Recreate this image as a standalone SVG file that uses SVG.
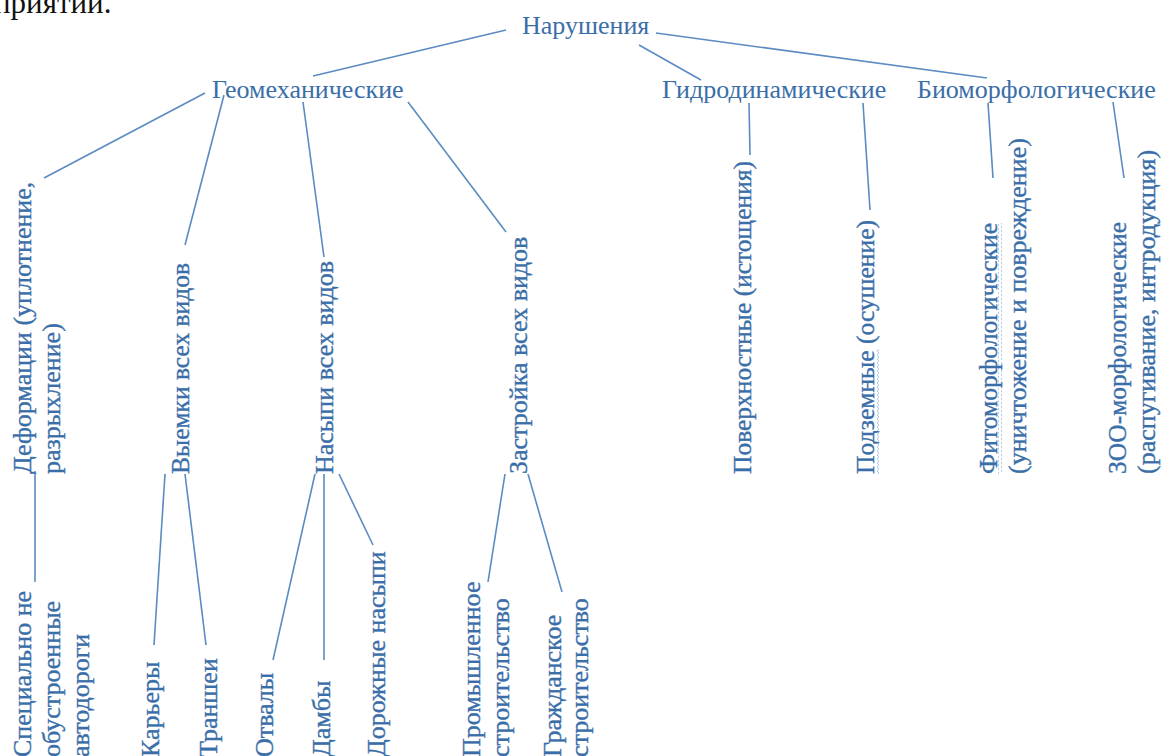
<svg xmlns="http://www.w3.org/2000/svg" width="1168" height="756" viewBox="0 0 1168 756">
<style>
text{font-family:"Liberation Serif","Times New Roman",serif;fill:#3a6ea8}
.h{font-size:26px}
.v{font-size:26px;stroke:#3a6ea8;stroke-width:0.35}
.body{fill:#111;font-size:31px}
#connectors line{stroke:#5b8bc2;stroke-width:1.6;fill:none}
.wave{fill:url(#wv)}
</style>
<defs>
<pattern id="wv" width="4" height="4" patternUnits="userSpaceOnUse">
<path d="M2 0 Q3.6 1 2 2 Q0.4 3 2 4" fill="none" stroke="#9dbbe0" stroke-width="0.8"/>
</pattern>
</defs>
<rect width="1168" height="756" fill="#fff"/>
<text class="body" x="-6" y="13">приятий.</text>

<g id="connectors">
<line x1="506" y1="30" x2="313" y2="76"/>
<line x1="639" y1="45" x2="701" y2="80"/>
<line x1="656" y1="33" x2="987" y2="78"/>
<line x1="205" y1="93" x2="44" y2="178"/>
<line x1="224" y1="95" x2="185" y2="245"/>
<line x1="303" y1="102" x2="324" y2="257"/>
<line x1="408" y1="102" x2="506" y2="232"/>
<line x1="749" y1="103" x2="750" y2="155"/>
<line x1="863" y1="103" x2="870" y2="210"/>
<line x1="988" y1="103" x2="993" y2="178"/>
<line x1="1113" y1="102" x2="1124" y2="178"/>
<line x1="35" y1="471" x2="35" y2="582"/>
<line x1="165" y1="474" x2="154" y2="645"/>
<line x1="185" y1="474" x2="206" y2="645"/>
<line x1="315" y1="474" x2="273" y2="660"/>
<line x1="324" y1="474" x2="324" y2="660"/>
<line x1="339" y1="474" x2="373" y2="545"/>
<line x1="505" y1="474" x2="488" y2="582"/>
<line x1="528" y1="474" x2="562" y2="592"/>
</g>

<g id="n-root"><text class="h" x="522" y="34">Нарушения</text></g>
<g id="n-geo"><text class="h" x="212" y="98">Геомеханические</text></g>
<g id="n-hydro"><text class="h" x="662" y="98">Гидродинамические</text></g>
<g id="n-bio"><text class="h" x="917" y="98">Биоморфологические</text></g>

<g id="n-deform">
<text class="v" transform="translate(31 474) rotate(-90)">Деформации (уплотнение,</text>
<text class="v" transform="translate(60 474) rotate(-90)">разрыхление)</text>
</g>
<g id="n-vyemki"><text class="v" transform="translate(189 474) rotate(-90)" textLength="211" lengthAdjust="spacingAndGlyphs">Выемки всех видов</text></g>
<g id="n-nasypi"><text class="v" transform="translate(333 474) rotate(-90)">Насыпи всех видов</text></g>
<g id="n-zastr"><text class="v" transform="translate(527 474) rotate(-90)">Застройка всех видов</text></g>
<g id="n-pov"><text class="v" transform="translate(751 474) rotate(-90)" textLength="313" lengthAdjust="spacingAndGlyphs">Поверхностные (истощения)</text></g>
<g id="n-podz">
<rect class="wave" x="876" y="349" width="4" height="125"/>
<text class="v" transform="translate(874 474) rotate(-90)" textLength="254" lengthAdjust="spacingAndGlyphs">Подземные (осушение)</text>
</g>
<g id="n-fito">
<rect class="wave" x="998" y="223" width="4" height="251"/>
<text class="v" transform="translate(997 474) rotate(-90)" textLength="251" lengthAdjust="spacingAndGlyphs">Фитоморфологические</text>
<text class="v" transform="translate(1026 474) rotate(-90)">(уничтожение и повреждение)</text>
</g>
<g id="n-zoo">
<text class="v" transform="translate(1126 474) rotate(-90)" textLength="252" lengthAdjust="spacingAndGlyphs">ЗОО-морфологические</text>
<text class="v" transform="translate(1155 474) rotate(-90)">(распугивание, интродукция)</text>
</g>

<g id="n-spec">
<text class="v" transform="translate(31 757) rotate(-90)">Специально не</text>
<text class="v" transform="translate(60 757) rotate(-90)">обустроенные</text>
<text class="v" transform="translate(89 757) rotate(-90)">автодороги</text>
</g>
<g id="n-karer"><text class="v" transform="translate(159 757) rotate(-90)">Карьеры</text></g>
<g id="n-transh"><text class="v" transform="translate(217 757) rotate(-90)">Траншеи</text></g>
<g id="n-otval"><text class="v" transform="translate(273 757) rotate(-90)">Отвалы</text></g>
<g id="n-damb"><text class="v" transform="translate(330 757) rotate(-90)">Дамбы</text></g>
<g id="n-dor"><text class="v" transform="translate(385 757) rotate(-90)">Дорожные насыпи</text></g>
<g id="n-prom">
<text class="v" transform="translate(480 757) rotate(-90)">Промышленное</text>
<text class="v" transform="translate(509 757) rotate(-90)">строительство</text>
</g>
<g id="n-grazh">
<text class="v" transform="translate(561 757) rotate(-90)">Гражданское</text>
<text class="v" transform="translate(588 757) rotate(-90)">строительство</text>
</g>
</svg>
